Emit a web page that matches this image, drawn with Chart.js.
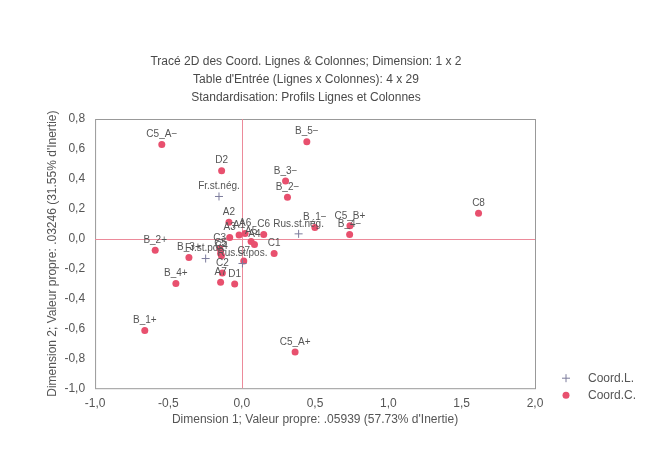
<!DOCTYPE html>
<html>
<head>
<meta charset="utf-8">
<script src="https://cdn.jsdelivr.net/npm/chart.js@4"></script>
<style>
  html, body { margin: 0; padding: 0; background: #fff; }
  #wrap { width: 669px; height: 474px; }
</style>
</head>
<body>
<div id="wrap"><canvas id="chart" width="669" height="474"></canvas></div>
<script>
// lignes (Coord.L.)
const rowLabels = ["Fr.st.nég.", "Rus.st.nég.", "Fr.st.pos.", "Rus.st.pos."];
const rowX = [-0.155, 0.388, -0.246, 0.005];
const rowY = [0.282, 0.032, -0.133, -0.166];

// colonnes (Coord.C.)
const colLabels = ["C5_A−", "D2", "B_5−", "B_3−", "B_2−", "A2", "B_1−", "C5_B+", "B_4−", "C8",
  "B_2+", "B_3+", "B_4+", "B_1+", "C5_A+", "C1", "C2", "A7", "D1", "C7",
  "A3", "A1", "A6", "C6", "A5", "A4", "C3", "C5", "C4"];
const colX = [-0.545, -0.137, 0.444, 0.299, 0.312, -0.087, 0.499, 0.738, 0.736, 1.615,
  -0.59, -0.36, -0.449, -0.661, 0.364, 0.221, -0.132, -0.144, -0.048, 0.014,
  -0.082, -0.018, 0.023, 0.150, 0.064, 0.087, -0.150, -0.144, -0.138];
const colY = [0.63, 0.454, 0.648, 0.385, 0.276, 0.11, 0.075, 0.086, 0.028, 0.169,
  -0.077, -0.126, -0.30, -0.614, -0.758, -0.099, -0.229, -0.291, -0.303, -0.15,
  0.008, 0.025, 0.035, 0.028, -0.019, -0.039, -0.066, -0.099, -0.115];

const titleLines = [
  "Tracé 2D des Coord. Lignes & Colonnes; Dimension: 1 x 2",
  "Table d'Entrée (Lignes x Colonnes): 4 x 29",
  "Standardisation: Profils Lignes et Colonnes"
];

const FONT = "'Liberation Sans', Arial, sans-serif";
const TXT = "#555";
const RED = "#e8506e";
const PLUS = "#7c7c9c";

const fmt = v => v.toFixed(1).replace(".", ",");

const extras = {
  id: "extras",
  beforeDatasetsDraw(chart) {
    const { ctx, chartArea: a, scales } = chart;
    ctx.save();
    ctx.strokeStyle = "#999";
    ctx.lineWidth = 1;
    ctx.strokeRect(a.left + 0.5, a.top + 0.5, a.width, a.height);
    ctx.strokeStyle = "#ec8a9a";
    const x0 = Math.round(scales.x.getPixelForValue(0)) + 0.5;
    const y0 = Math.round(scales.y.getPixelForValue(0)) + 0.5;
    ctx.beginPath();
    ctx.moveTo(x0, a.top); ctx.lineTo(x0, a.bottom);
    ctx.moveTo(a.left, y0); ctx.lineTo(a.right, y0);
    ctx.stroke();
    ctx.restore();
  },
  afterDatasetsDraw(chart) {
    const { ctx } = chart;
    ctx.save();
    ctx.font = "10px " + FONT;
    ctx.fillStyle = TXT;
    ctx.textAlign = "center";
    ctx.textBaseline = "bottom";
    chart.data.datasets.forEach((ds, i) => {
      const meta = chart.getDatasetMeta(i);
      meta.data.forEach((pt, j) => {
        ctx.fillText(ds.data[j].label, pt.x, pt.y - 5);
      });
    });
    ctx.restore();
  },
  afterDraw(chart) {
    const { ctx, chartArea: a } = chart;
    ctx.save();
    // titre
    ctx.font = "12px " + FONT;
    ctx.fillStyle = "#4a4a4a";
    ctx.textAlign = "center";
    ctx.textBaseline = "middle";
    titleLines.forEach((t, i) => ctx.fillText(t, 306, 62 + i * 18));
    // légende
    const lx = a.right + 31;
    const items = [
      { y: a.bottom - 10, text: "Coord.L.", cross: true },
      { y: a.bottom + 7, text: "Coord.C.", cross: false }
    ];
    ctx.textAlign = "left";
    items.forEach(it => {
      if (it.cross) {
        ctx.strokeStyle = PLUS;
        ctx.beginPath();
        ctx.moveTo(lx - 4, it.y); ctx.lineTo(lx + 4, it.y);
        ctx.moveTo(lx, it.y - 4); ctx.lineTo(lx, it.y + 4);
        ctx.stroke();
      } else {
        ctx.fillStyle = RED;
        ctx.beginPath();
        ctx.arc(lx, it.y, 3.5, 0, Math.PI * 2);
        ctx.fill();
      }
      ctx.fillStyle = TXT;
      ctx.fillText(it.text, lx + 22, it.y);
    });
    ctx.restore();
  }
};

new Chart(document.getElementById("chart"), {
  type: "scatter",
  data: {
    datasets: [
      {
        label: "Coord.L.",
        data: rowX.map((x, i) => ({ x: x, y: rowY[i], label: rowLabels[i] })),
        pointStyle: "cross",
        pointRadius: 4,
        borderColor: PLUS,
        borderWidth: 1,
        backgroundColor: PLUS
      },
      {
        label: "Coord.C.",
        data: colX.map((x, i) => ({ x: x, y: colY[i], label: colLabels[i] })),
        pointStyle: "circle",
        pointRadius: 3.5,
        borderWidth: 0,
        backgroundColor: RED
      }
    ]
  },
  options: {
    responsive: false,
    animation: false,
    layout: { padding: { left: 41, right: 134, bottom: 43, top: 119 } },
    plugins: {
      legend: { display: false },
      tooltip: { enabled: false }
    },
    scales: {
      x: {
        type: "linear",
        min: -1, max: 2,
        ticks: { stepSize: 0.5, color: TXT, font: { family: FONT, size: 12 }, callback: v => fmt(v), padding: 0 },
        grid: { display: false },
        border: { display: false },
        title: {
          display: true,
          text: "Dimension 1; Valeur propre: .05939 (57.73% d'Inertie)",
          color: TXT,
          font: { family: FONT, size: 12 },
          padding: { top: 2 }
        }
      },
      y: {
        type: "linear",
        min: -1, max: 0.8,
        ticks: { stepSize: 0.2, color: TXT, font: { family: FONT, size: 12 }, callback: v => fmt(v), padding: 2 },
        grid: { display: false },
        border: { display: false },
        title: {
          display: true,
          text: "Dimension 2; Valeur propre: .03246 (31.55% d'Inertie)",
          color: TXT,
          font: { family: FONT, size: 12 },
          padding: { bottom: 3 }
        }
      }
    }
  },
  plugins: [extras]
});
</script>
</body>
</html>
